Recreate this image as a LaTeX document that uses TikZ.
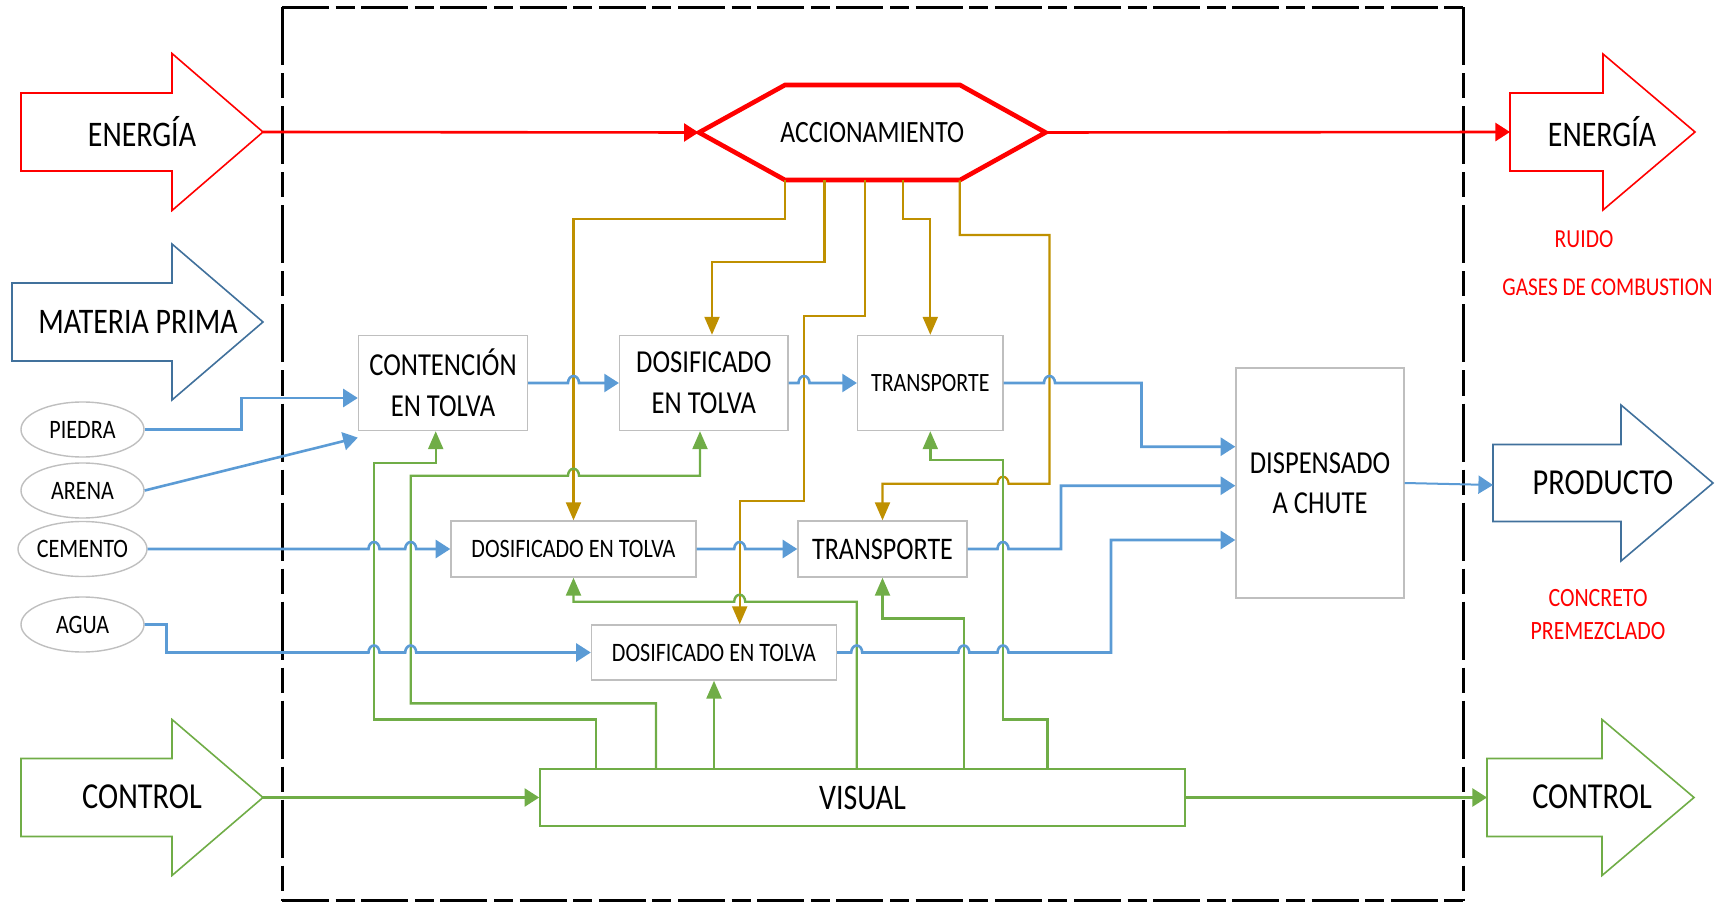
\documentclass[tikz,border=0pt]{standalone}
\usepackage{fontspec}
\setmainfont{Carlito}[FakeStretch=0.83]
\usetikzlibrary{arrows.meta,shapes.geometric}
\definecolor{cred}{HTML}{FF0000}
\definecolor{cblue}{HTML}{5B9BD5}
\definecolor{cdblue}{HTML}{41719C}
\definecolor{cgreen}{HTML}{70AD47}
\definecolor{cgold}{HTML}{BF9000}
\definecolor{cgray}{HTML}{BFBFBF}
\newcommand\hjr[2]{-- ({#1-5.5},#2) arc[start angle=180,end angle=0,x radius=2.75pt,y radius=3.5pt]}
\newcommand\hjl[2]{-- ({#1+5.5},#2) arc[start angle=0,end angle=180,x radius=2.75pt,y radius=3.5pt]}
\newcommand\bigarrow[7]{\draw[#1] (#2,{#5-#6}) -- (#3,{#5-#6}) -- (#3,{#5-#7}) -- (#4,#5) -- (#3,{#5+#7}) -- (#3,{#5+#6}) -- (#2,{#5+#6}) -- cycle;}
\newcommand\fs[2]{\fontsize{#1}{#2}\selectfont}
\begin{document}
\begin{tikzpicture}[x=0.5pt,y=-0.5pt,
  box/.style={draw=cgray,line width=0.7pt,fill=white,inner sep=0pt,align=center,font={\fs{16}{20.5}}},
  ell/.style={ellipse,draw=cgray,line width=0.7pt,fill=white,inner sep=0pt,minimum width=61.5pt,minimum height=27.5pt,font={\fs{13.3}{16}}},
  tipH/.style={-{Triangle[length=7.3pt,width=9pt]}},
  tipV/.style={-{Triangle[length=9pt,width=7.5pt]}},
  bl/.style={cblue,line width=1.3pt},
  gr/.style={cgreen,line width=1.2pt},
  go/.style={cgold,line width=1.1pt},
  rd/.style={cred,line width=1.3pt},
  frameH/.style={black,line width=1.5pt,dash pattern=on 23.5pt off 3.3pt on 9.5pt off 3.3pt},
  frameV/.style={black,line width=1.5pt,dash pattern=on 29pt off 4pt on 12.5pt off 4pt},
  big/.style={line width=0.8pt,fill=white,line join=miter},
  bigtext/.style={inner sep=0pt,font={\fs{18}{20}}},
  redtext/.style={cred,inner sep=0pt,align=center},
]
\useasboundingbox (0,0) rectangle (1717,903);
% frame
\draw[frameH] (282,7.5) -- (1463,7.5);
\draw[frameH] (282,900.5) -- (1463,900.5);
\draw[frameV] (282,7.5) -- (282,900.5);
\draw[frameV] (1463,7.5) -- (1463,900.5);

% big arrows
\bigarrow{big,draw=cred}{21}{172}{263}{132}{39}{78.5}
\bigarrow{big,draw=cdblue}{12}{172}{263}{322}{39}{78}
\bigarrow{big,draw=cgreen}{21}{172}{263}{797.5}{39}{78}
\bigarrow{big,draw=cred}{1510}{1603}{1695}{132}{39}{78}
\bigarrow{big,draw=cdblue}{1493}{1621}{1713}{483}{38.5}{78}
\bigarrow{big,draw=cgreen}{1487}{1602}{1694}{797.5}{39}{78}
\coordinate (eintip) at (263,132);
\coordinate (cintip) at (263,797.5);
\coordinate (eoutL) at (1510,132);
\coordinate (prodL) at (1493,485);
\coordinate (coutL) at (1487,797.5);
\node[bigtext] (tein) at (142,132) {ENERGÍA};
\node[bigtext] (tmp) at (138,322) {MATERIA PRIMA};
\node[bigtext,font={\fs{18.3}{20}}] (tcin) at (142,797) {CONTROL};
\node[bigtext,font={\fs{18}{20}}] (teout) at (1602,132) {ENERGÍA};
\node[bigtext,font={\fs{18.3}{20}}] (tprod) at (1603,483) {PRODUCTO};
\node[bigtext,font={\fs{18.3}{20}}] (tcout) at (1592,797) {CONTROL};

% red labels
\node[redtext,font={\fs{13}{16}}] (ruido) at (1584,239) {RUIDO};
\node[redtext,font={\fs{12.8}{16}}] (gases) at (1607.5,287) {GASES DE COMBUSTION};
\node[redtext,font={\fs{13.2}{16.5}}] (concreto) at (1598,614.5) {CONCRETO\\PREMEZCLADO};

% hexagon
\draw[cred,line width=2.3pt,fill=white,line join=miter] (699,132.5) -- (785,85) -- (960,85) -- (1045.5,132.5) -- (960,180) -- (785,180) -- cycle;
\node[inner sep=0pt,minimum width=173.25pt,minimum height=47.5pt,font={\fs{15.5}{20}}] (accion) at (872.25,132.5) {ACCIONAMIENTO};

% boxes
\node[box,minimum width=84.5pt,minimum height=47.5pt] (cont) at (443,383) {CONTENCIÓN\\EN TOLVA};
\node[box,minimum width=84.2pt,minimum height=47.5pt] (dos1) at (703.8,383) {DOSIFICADO\\EN TOLVA};
\node[box,minimum width=72.7pt,minimum height=47.5pt,font={\fs{13.2}{16}}] (tra1) at (930.3,383) {TRANSPORTE};
\node[box,minimum width=122.5pt,minimum height=28pt,font={\fs{13.3}{16}}] (dos2) at (573.5,549) {DOSIFICADO EN TOLVA};
\node[box,minimum width=84.5pt,minimum height=28pt,font={\fs{15.7}{18}}] (tra2) at (882.5,549) {TRANSPORTE};
\node[box,minimum width=122.5pt,minimum height=27.5pt,font={\fs{13.3}{16}}] (dos3) at (714,652.5) {DOSIFICADO EN TOLVA};
\node[box,minimum width=84pt,minimum height=115pt,font={\fs{16}{20}}] (disp) at (1320,483) {DISPENSADO\\A CHUTE};
\node[box,draw=cgreen,line width=0.8pt,minimum width=322.5pt,minimum height=28.5pt,font={\fs{18}{20}}] (visual) at (862.5,797.5) {VISUAL};

% ellipses
\node[ell] (piedra) at (82.5,429.5) {PIEDRA};
\node[ell] (arena) at (82.5,490.5) {ARENA};
\node[ell] (cemento) at (82.5,549) {CEMENTO};
\node[ell] (agua) at (82.5,624.5) {AGUA};

% red connectors
\draw[rd,tipH] (eintip) -- (accion.west);
\draw[rd,tipH] (accion.east) -- (eoutL);

% gold connectors
\draw[go,tipV] (accion.south -| 785,0) -- (785,219) -- (573.5,219) -- (dos2.north);
\draw[go,tipV] (accion.south -| 824.5,0) -- (824.5,261.7) -- (712,261.7) -- (dos1.north -| 712,0);
\draw[go,tipV] (accion.south -| 865,0) -- (865,315.7) -- (804,315.7) -- (804,501) -- (739.7,501) -- (dos3.north -| 739.7,0);
\draw[go,tipV] (accion.south -| 902.7,0) -- (902.7,219) -- (930.3,219) -- (tra1.north);
\draw[go,tipV] (accion.south -| 959.8,0) -- (959.8,235) -- (1049.5,235) -- (1049.5,483.7) \hjl{1003}{483.7} -- (882.5,483.7) -- (tra2.north);

% green connectors
\draw[gr,tipH] (cintip) -- (visual.west);
\draw[gr,tipH] (visual.east) -- (coutL);
\draw[gr,tipV] (visual.north -| 596,0) -- (596,719.3) -- (374,719.3) -- (374,462.7) -- (435.7,462.7) -- (cont.south -| 435.7,0);
\draw[gr,tipV] (visual.north -| 656,0) -- (656,703.3) -- (410.7,703.3) -- (410.7,475.7) \hjr{573.5}{475.7} -- (700,475.7) -- (dos1.south -| 700,0);
\draw[gr,tipV] (visual.north -| 714,0) -- (dos3.south);
\draw[gr,tipV] (visual.north -| 856.7,0) -- (856.7,601.7) \hjl{739.7}{601.7} -- (573.5,601.7) -- (dos2.south);
\draw[gr,tipV] (visual.north -| 963.8,0) -- (963.8,618.3) -- (882.5,618.3) -- (tra2.south);
\draw[gr,tipV] (visual.north -| 1047.3,0) -- (1047.3,719.3) -- (1003,719.3) -- (1003,460) -- (930.3,460) -- (tra1.south);

% blue connectors
\draw[bl,tipH] (piedra.east) -- (241.5,429.5) -- (241.5,398) -- (cont.west |- 0,398);
\draw[bl,tipH] (arena.east) -- ([yshift=-3.2pt]cont.south west);
\draw[bl,tipH] (cont.east) \hjr{573.5}{383} -- (dos1.west);
\draw[bl,tipH] (dos1.east) \hjr{804}{383} -- (tra1.west);
\draw[bl,tipH] (tra1.east) \hjr{1049.5}{383} -- (1141.5,383) -- (1141.5,446.7) -- (disp.west |- 0,446.7);
\draw[bl,tipH] (cemento.east) \hjr{374}{549} \hjr{410.7}{549} -- (dos2.west);
\draw[bl,tipH] (dos2.east) \hjr{739.7}{549} -- (tra2.west);
\draw[bl,tipH] (tra2.east) \hjr{1003}{549} -- (1061,549) -- (1061,485.7) -- (disp.west |- 0,485.7);
\draw[bl,tipH] (agua.east) -- (166.5,624.5) -- (166.5,652.5) \hjr{374}{652.5} \hjr{410.7}{652.5} -- (dos3.west);
\draw[bl,tipH] (dos3.east) \hjr{856.7}{652.5} \hjr{963.8}{652.5} \hjr{1003}{652.5} -- (1111,652.5) -- (1111,540) -- (disp.west |- 0,540);
\draw[cblue,line width=1pt,tipH] (disp.east |- 0,483) -- (prodL);
\end{tikzpicture}
\end{document}
